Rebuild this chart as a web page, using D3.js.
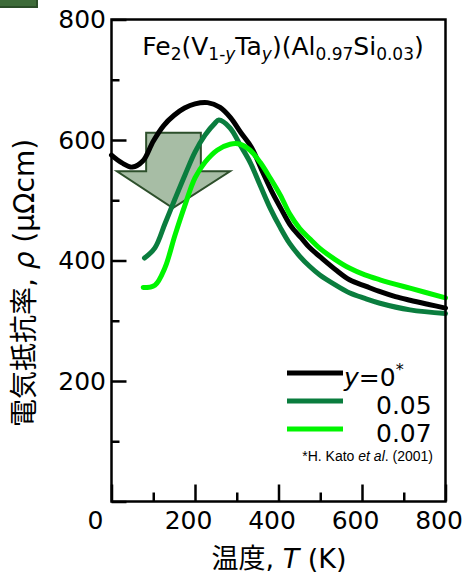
<!DOCTYPE html>
<html>
<head>
<meta charset="utf-8">
<script src="https://cdn.jsdelivr.net/npm/d3@7"></script>
<style>
  body { margin: 0; background: #fff; }
</style>
</head>
<body>
<script>

// Resistivity (uOhm cm) vs temperature (K)
var tempY0 = [0, 25, 50, 75, 100, 125, 150, 175, 200, 230, 260, 285, 310, 335, 360, 385, 410, 430, 455, 475, 500, 540, 570, 610, 640, 680, 715, 760, 800];
var rhoY0 = [575, 562, 555, 565, 598, 624, 641, 653, 660, 662, 654, 637, 612, 588, 550, 513, 481, 457, 437, 421, 406, 383, 368, 357, 349, 340, 334, 327, 321];

var tempY005 = [79, 104, 128, 152, 176, 200, 224, 248, 257, 284, 308, 332, 356, 380, 404, 427, 451, 475, 499, 535, 571, 607, 643, 715, 800];
var rhoY005 = [404, 421, 461, 502, 542, 580, 608, 628, 633, 620, 592, 563, 525, 487, 455, 428, 407, 390, 376, 360, 346, 337, 329, 318, 312];

var tempY007 = [76, 104, 128, 152, 176, 200, 224, 253, 284, 308, 332, 356, 380, 404, 427, 451, 475, 499, 535, 571, 607, 643, 715, 800];
var rhoY007 = [355, 359, 388, 442, 492, 537, 563, 583, 593, 593, 583, 563, 537, 509, 477, 453, 436, 420, 402, 387, 376, 368, 354, 338];

var seriesNames = ['0', '0.05', '0.07'];
var seriesColors = ['#000000', '#0a7d3e', '#00f500'];

var xTicks = [0, 100, 200, 300, 400, 500, 600, 700, 800];
var yTicks = [0, 100, 200, 300, 400, 500, 600, 700, 800];

// the big "decrease" arrow, in data units (T, rho)
var arrowPts = [[83, 612], [214, 612], [214, 548], [284, 548], [147, 487], [13, 548], [83, 548]];

var data = [
    {name: seriesNames[0], color: seriesColors[0], points: tempY0.map(function(t, i) { return {x: t, y: rhoY0[i]}; })},
    {name: seriesNames[1], color: seriesColors[1], points: tempY005.map(function(t, i) { return {x: t, y: rhoY005[i]}; })},
    {name: seriesNames[2], color: seriesColors[2], points: tempY007.map(function(t, i) { return {x: t, y: rhoY007[i]}; })}
];

var width = 465,
    height = 574,
    latin = 'DejaVu Sans, Noto Sans CJK JP, sans-serif',
    lineWidth = 5;

var svg = d3.select('body')
    .append('svg')
    .attr('width', width)
    .attr('height', height);

var xScale = d3.scaleLinear()
    .domain([0, 800])
    .range([111.5, 445.5]);

var yScale = d3.scaleLinear()
    .domain([0, 800])
    .range([501.5, 19.5]);

// little green tab in the corner
svg.append('rect')
    .attr('x', 0).attr('y', 0)
    .attr('width', 38).attr('height', 8)
    .style('fill', '#2b4d28');
svg.append('rect')
    .attr('x', 0).attr('y', 0)
    .attr('width', 36).attr('height', 6)
    .style('fill', '#3e6b39');

// arrow behind the curves
svg.append('polygon')
    .attr('points', arrowPts.map(function(p) { return xScale(p[0]) + ',' + yScale(p[1]); }).join(' '))
    .style('fill', '#a7bda5')
    .style('stroke', '#2d4f2b')
    .style('stroke-width', 2);

var linePath = d3.line()
    .curve(d3.curveCatmullRom)
    .x(function(d) { return xScale(d.x); })
    .y(function(d) { return yScale(d.y); });

svg.selectAll('path.curve')
    .data(data)
    .enter()
    .append('path')
    .attr('class', 'curve')
    .attr('d', function(d) { return linePath(d.points); })
    .style('fill', 'none')
    .style('stroke', function(d) { return d.color; })
    .style('stroke-width', lineWidth)
    .style('stroke-linejoin', 'round')
    .style('stroke-linecap', 'round');

// axes: ticks point inward, major ones longer
var yAxis = d3.axisLeft(yScale)
    .tickValues(yTicks)
    .tickSizeInner(0)
    .tickSizeOuter(0)
    .tickPadding(5.5)
    .tickFormat(function(d) { return (d > 0 && d % 200 === 0) ? d : ''; });

var yAxisObject = svg.append('g')
    .attr('transform', 'translate(' + xScale(0) + ',0)')
    .call(yAxis);
yAxisObject.select('.domain').remove();
yAxisObject.selectAll('.tick line')
    .attr('x2', function(d) { return d % 200 === 0 ? 15 : 8; })
    .style('stroke', '#000')
    .style('stroke-width', 2.5);
yAxisObject.selectAll('text')
    .style('font-family', latin)
    .style('font-size', '25px')
    .style('fill', '#000');

var xAxis = d3.axisBottom(xScale)
    .tickValues(xTicks)
    .tickSizeInner(0)
    .tickSizeOuter(0)
    .tickPadding(10)
    .tickFormat(function(d) { return d % 200 === 0 ? d : ''; });

var xAxisObject = svg.append('g')
    .attr('transform', 'translate(0,' + yScale(0) + ')')
    .call(xAxis);
xAxisObject.select('.domain').remove();
xAxisObject.selectAll('.tick line')
    .attr('y2', function(d) { return d % 200 === 0 ? -17 : -9; })
    .style('stroke', '#000')
    .style('stroke-width', 2.5);
// labels sit a little left of their ticks, the 0 more so
xAxisObject.selectAll('text')
    .attr('x', function(d) { return d === 0 ? -16.5 : -7; })
    .style('font-family', latin)
    .style('font-size', '25px')
    .style('fill', '#000');

// plot frame
svg.append('rect')
    .attr('x', xScale(0))
    .attr('y', yScale(800))
    .attr('width', xScale(800) - xScale(0))
    .attr('height', yScale(0) - yScale(800))
    .style('fill', 'none')
    .style('stroke', '#000')
    .style('stroke-width', 2.5);

// title with subscripts
var title = svg.append('text')
    .attr('x', 283)
    .attr('y', 55)
    .attr('text-anchor', 'middle')
    .style('font-family', latin)
    .style('font-size', '25px');

var titleParts = [
    ['Fe', 0], ['2', 1], ['(V', 0], ['1-', 1], ['y', 2], ['Ta', 0], ['y', 2],
    [')(Al', 0], ['0.97', 1], ['Si', 0], ['0.03', 1], [')', 0]
];
var lowered = false;
titleParts.forEach(function(p) {
    var ts = title.append('tspan').text(p[0]);
    if (p[1] > 0) {
        ts.style('font-size', '17px');
        if (p[1] === 2) ts.style('font-style', 'italic');
        if (!lowered) { ts.attr('dy', 5); lowered = true; }
    } else if (lowered) {
        ts.attr('dy', -5);
        lowered = false;
    }
});

// y axis label
var yLabel = svg.append('text')
    .attr('transform', 'translate(24,283) rotate(-90)')
    .attr('text-anchor', 'middle')
    .attr('dominant-baseline', 'central')
    .style('font-family', latin)
    .style('font-size', '28px');
yLabel.append('tspan').text('電気抵抗率, ');
yLabel.append('tspan').style('font-style', 'italic').text('ρ');
yLabel.append('tspan').text(' (μΩcm)');

// x axis label
var xLabel = svg.append('text')
    .attr('x', 279)
    .attr('y', 568)
    .attr('text-anchor', 'middle')
    .style('font-family', latin)
    .style('font-size', '27px');
xLabel.append('tspan').text('温度, ');
xLabel.append('tspan').style('font-style', 'italic').text('T');
xLabel.append('tspan').text(' (K)');

// legend
var legendX = [287, 343],
    legendY = [373, 401, 429];

var legend = svg.selectAll('g.legend')
    .data(data)
    .enter()
    .append('g')
    .attr('class', 'legend');

legend.append('line')
    .attr('x1', legendX[0])
    .attr('x2', legendX[1])
    .attr('y1', function(d, i) { return legendY[i]; })
    .attr('y2', function(d, i) { return legendY[i]; })
    .style('stroke', function(d) { return d.color; })
    .style('stroke-width', lineWidth);

legend.each(function(d, i) {
    var t = d3.select(this).append('text')
        .attr('y', legendY[i] + 13)
        .style('font-family', latin)
        .style('font-size', '25px');
    if (i === 0) {
        t.attr('x', 344);
        t.append('tspan').style('font-style', 'italic').text('y');
        t.append('tspan').text('=' + d.name);
        t.append('tspan').attr('dy', -11).style('font-size', '16px').text('*');
    } else {
        t.attr('x', 376).text(d.name);
    }
});

// footnote
var note = svg.append('text')
    .attr('x', 433)
    .attr('y', 461)
    .attr('text-anchor', 'end')
    .style('font-family', 'Liberation Sans, Arial, sans-serif')
    .style('font-size', '14px');
note.append('tspan').text('*H. Kato ');
note.append('tspan').style('font-style', 'italic').text('et al');
note.append('tspan').text('. (2001)');

</script>
</body>
</html>
